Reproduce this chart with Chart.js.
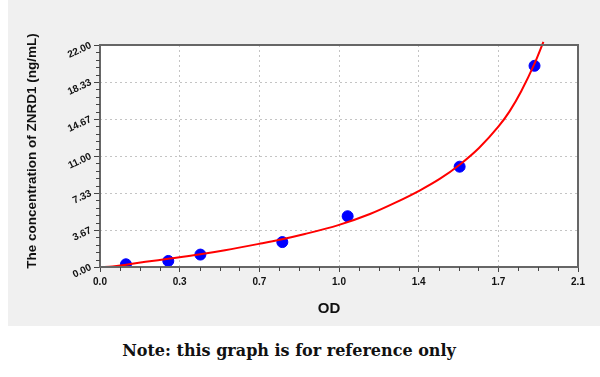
<!doctype html>
<html>

<head>
	<title>ZNRD1 standard curve</title>
	<script src="https://cdn.jsdelivr.net/npm/chart.js@4.4.1/dist/chart.umd.min.js"></script>
	<style>
		body {
			margin: 0;
			background: #fff;
		}
		#panel {
			position: absolute;
			left: 8px;
			top: 0;
			width: 592px;
			height: 326px;
			background: #f0f0f0;
		}
		#note {
			position: absolute;
			left: 0;
			top: 341px;
			width: 578px;
			text-align: center;
			font: bold 16px "DejaVu Serif", serif;
			color: #111;
		}
	</style>
</head>

<body>
	<div id="panel">
		<canvas id="canvas" width="592" height="326"></canvas>
	</div>
	<div id="note">Note: this graph is for reference only</div>
	<script>
		// measured standards
		const odValues = [0.114, 0.300, 0.441, 0.801, 1.088, 1.580, 1.909];
		const concValues = [0.27, 0.60, 1.23, 2.47, 5.03, 9.94, 19.94];

		// fitted curve
		const curveOD = [0, 0.055, 0.114, 0.2, 0.3, 0.441, 0.549, 0.7, 0.8, 0.9, 1.047, 1.186, 1.3, 1.406, 1.494, 1.58, 1.665, 1.75, 1.8, 1.85, 1.91, 1.948];
		const curveConc = [0, 0.04, 0.22, 0.51, 0.81, 1.26, 1.66, 2.30, 2.75, 3.27, 4.15, 5.25, 6.4, 7.6, 8.75, 10.14, 11.8, 13.9, 15.45, 17.4, 20.2, 22.3];

		const xTickLabels = ['0.0', '0.3', '0.7', '1.0', '1.4', '1.7', '2.1'];
		const yTickLabels = ['0.00', '3.67', '7.33', '11.00', '14.67', '18.33', '22.00'];

		const tickFont = { family: '"Liberation Sans", Arial, sans-serif', size: 10, weight: 'bold' };

		const frame = {
			id: 'frame',
			beforeDraw(chart) {
				const { ctx, chartArea: a } = chart;
				ctx.save();
				ctx.fillStyle = '#fff';
				ctx.fillRect(a.left, a.top, a.right - a.left, a.bottom - a.top);
				ctx.restore();
			},
			afterDraw(chart) {
				const { ctx, chartArea: a, scales } = chart;
				ctx.save();
				ctx.strokeStyle = '#666';
				ctx.lineWidth = 2;
				ctx.strokeRect(a.left, a.top, a.right - a.left, a.bottom - a.top);

				// minor ticks
				ctx.strokeStyle = '#444';
				ctx.lineWidth = 1;
				ctx.beginPath();
				for (let i = 1; i < 24; i++) {
					if (i % 4 === 0) continue;
					const x = Math.round(scales.x.getPixelForValue(i * 2.1 / 24)) + 0.5;
					ctx.moveTo(x, a.bottom);
					ctx.lineTo(x, a.bottom + 4);
				}
				for (let i = 1; i < 30; i++) {
					if (i % 5 === 0) continue;
					const y = Math.round(scales.y.getPixelForValue(i * 22 / 30)) + 0.5;
					ctx.moveTo(a.left, y);
					ctx.lineTo(a.left - 4, y);
				}
				ctx.stroke();

				// axis titles
				ctx.fillStyle = '#111';
				ctx.textAlign = 'center';
				ctx.textBaseline = 'middle';
				ctx.font = 'bold 15px "Liberation Sans", Arial, sans-serif';
				ctx.fillText('OD', 321, 309);
				ctx.translate(24, 151);
				ctx.rotate(-Math.PI / 2);
				ctx.font = 'bold 13.5px "Liberation Sans", Arial, sans-serif';
				ctx.fillText('The concentration of ZNRD1 (ng/mL)', 0, 0);
				ctx.restore();
			}
		};

		const config = {
			type: 'scatter',
			data: {
				datasets: [{
					label: 'Standards',
					data: odValues.map((x, i) => ({ x: x, y: concValues[i] })),
					backgroundColor: '#0000ff',
					borderColor: '#0000ff',
					pointRadius: 5.5,
					pointHoverRadius: 5.5,
					order: 2
				}, {
					label: 'Curve',
					type: 'line',
					data: curveOD.map((x, i) => ({ x: x, y: curveConc[i] })),
					borderColor: '#ff0000',
					borderWidth: 2,
					pointRadius: 0,
					fill: false,
					cubicInterpolationMode: 'monotone',
					clip: false,
					order: 1
				}]
			},
			options: {
				responsive: false,
				animation: false,
				layout: {
					padding: { left: 0, top: 45, right: 22, bottom: 0 }
				},
				plugins: {
					legend: { display: false },
					tooltip: { enabled: false }
				},
				scales: {
					x: {
						type: 'linear',
						min: 0,
						max: 2.1,
						afterFit(scale) { scale.height = 59; },
						ticks: {
							count: 7,
							color: '#111',
							font: tickFont,
							padding: 4,
							maxRotation: 0,
							callback: (v, i) => xTickLabels[i]
						},
						grid: {
							color: '#c4c4c4',
							tickColor: '#444',
							tickLength: 5,
							tickBorderDash: [],
							lineWidth: 1
						},
						border: { display: false, dash: [2, 3] }
					},
					y: {
						type: 'linear',
						min: 0,
						max: 22,
						afterFit(scale) { scale.width = 92; },
						ticks: {
							count: 7,
							color: '#111',
							font: tickFont,
							padding: 3,
							minRotation: 25,
							maxRotation: 25,
							callback: (v, i) => yTickLabels[i]
						},
						grid: {
							color: '#c4c4c4',
							tickColor: '#444',
							tickLength: 6,
							tickBorderDash: [],
							lineWidth: 1
						},
						border: { display: false, dash: [2, 3] }
					}
				}
			},
			plugins: [frame]
		};

		window.onload = function() {
			window.myChart = new Chart(document.getElementById('canvas'), config);
		};
	</script>
</body>

</html>
